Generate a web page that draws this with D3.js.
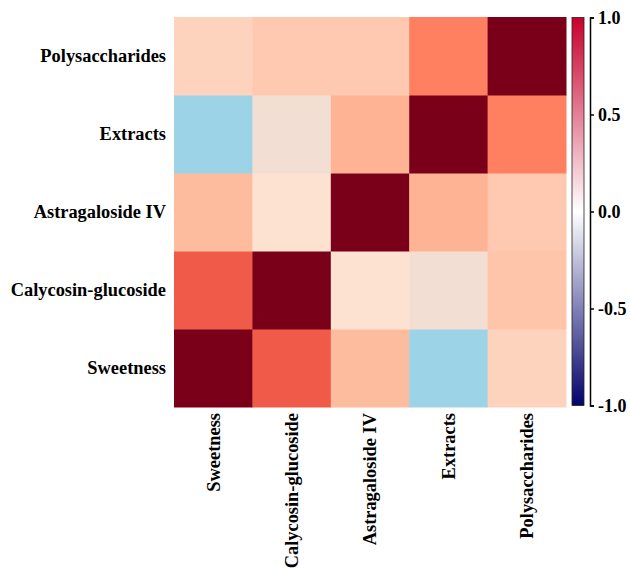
<!DOCTYPE html>
<html>
<head>
<meta charset="utf-8">
<script src="https://cdn.jsdelivr.net/npm/d3@7"></script>
<style>
  body { margin: 0; background: #fff; }
  svg { display: block; }
</style>
</head>
<body>
<svg id="chart" width="630" height="568"></svg>
<script>
// Variables, in column order (left to right); rows run bottom to top in the same order
const variables = ["Sweetness", "Calycosin-glucoside", "Astragaloside IV", "Extracts", "Polysaccharides"];

// Correlation matrix rows (same order as variables)
const rowSweetness       = [1.00, 0.62, 0.26, -0.35, 0.16];
const rowCalycosin       = [0.62, 1.00, 0.10, 0.04, 0.22];
const rowAstragaloside   = [0.26, 0.10, 1.00, 0.30, 0.20];
const rowExtracts        = [-0.35, 0.04, 0.30, 1.00, 0.52];
const rowPolysaccharides = [0.16, 0.20, 0.20, 0.52, 1.00];
const matrix = [rowSweetness, rowCalycosin, rowAstragaloside, rowExtracts, rowPolysaccharides];

// Legend tick values
const legendTicks = [-1.0, -0.5, 0.0, 0.5, 1.0];

const FONT = "'Liberation Serif', 'Times New Roman', serif";
const svg = d3.select("#chart");

const x = d3.scaleBand().domain(variables).range([174, 566]);
const y = d3.scaleBand().domain(variables).range([407, 17]);

// Cell fill palette
const cellColor = d3.scaleLinear()
  .domain([-1, -0.35, 0, 0.1, 0.2, 0.3, 0.52, 0.62, 1])
  .range(["#2b4a8c", "#9dd3e6", "#ecdcd6", "#fde2d2", "#fec9b0", "#feb494", "#ff8060", "#f05a48", "#7a0019"])
  .interpolate(d3.interpolateRgb);

// Legend palette
const barColor = d3.scaleLinear()
  .domain([-1, 0, 1])
  .range(["#03036c", "#ffffff", "#c8002c"]);

const cells = [];
matrix.forEach((row, i) => row.forEach((v, j) => cells.push({ r: variables[i], c: variables[j], v })));

svg.append("g")
  .selectAll("rect")
  .data(cells)
  .join("rect")
  .attr("x", d => x(d.c))
  .attr("y", d => y(d.r))
  .attr("width", x.bandwidth() + 0.5)
  .attr("height", y.bandwidth() + 0.5)
  .attr("fill", d => cellColor(d.v));

function labelStyle(sel, size) {
  sel.style("font-family", FONT)
    .style("font-weight", "bold")
    .style("font-size", size + "px")
    .style("fill", "#000");
}

// Row labels
svg.append("g")
  .selectAll("text")
  .data(variables)
  .join("text")
  .attr("x", 166)
  .attr("y", d => y(d) + y.bandwidth() / 2)
  .attr("dy", "0.35em")
  .attr("text-anchor", "end")
  .call(labelStyle, 18.4)
  .text(d => d);

// Column labels, rotated
svg.append("g")
  .selectAll("text")
  .data(variables)
  .join("text")
  .attr("transform", d => `translate(${x(d) + x.bandwidth() / 2},413) rotate(-90)`)
  .attr("dy", "0.35em")
  .attr("text-anchor", "end")
  .call(labelStyle, 18.4)
  .text(d => d);

// Colour legend
const legendScale = d3.scaleLinear().domain([-1, 1]).range([405.5, 17.5]);
const defs = svg.append("defs");
const grad = defs.append("linearGradient")
  .attr("id", "legendGrad")
  .attr("x1", 0).attr("y1", 1).attr("x2", 0).attr("y2", 0);
d3.range(-1, 1.0001, 0.1).forEach(v => {
  grad.append("stop")
    .attr("offset", ((v + 1) / 2 * 100) + "%")
    .attr("stop-color", barColor(v));
});

svg.append("rect")
  .attr("x", 572)
  .attr("y", legendScale(1))
  .attr("width", 12)
  .attr("height", legendScale(-1) - legendScale(1))
  .attr("fill", "url(#legendGrad)")
  .attr("stroke", "#222")
  .attr("stroke-width", 0.8);

const legendAxis = svg.append("g")
  .attr("transform", "translate(590,0)")
  .call(d3.axisRight(legendScale)
    .tickValues(legendTicks)
    .tickFormat(d3.format(".1f"))
    .tickSize(4)
    .tickPadding(4));
legendAxis.selectAll("path, line").attr("stroke", "#000").attr("stroke-width", 1.5);
legendAxis.selectAll("text")
  .call(labelStyle, 18)
  .text(d => d3.format(".1f")(d).replace("−", "-"));
</script>
</body>
</html>
